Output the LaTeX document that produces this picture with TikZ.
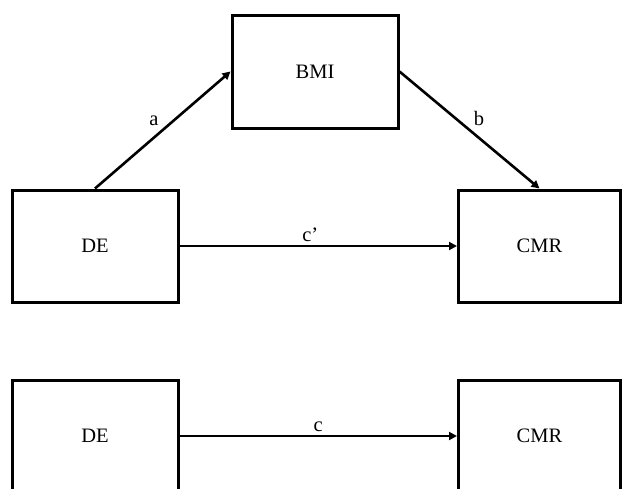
\documentclass[tikz,border=0pt]{standalone}
\usepackage{fontspec}
\setmainfont{Liberation Serif}
\usepackage{tikz}
\usetikzlibrary{positioning, calc, arrows.meta}
\tikzset{
    varbox/.style={
        draw, line width=3pt, minimum width=166pt, minimum height=112pt,
        inner sep=0pt, fill=white, anchor=center, font=\fontsize{20.5}{24}\selectfont
    },
    pathptr/.style={
        -{Triangle[length=8pt,width=8pt]}, line width=2.6pt, black
    },
    pathlabel/.style={
        font=\fontsize{20.5}{24}\selectfont, inner sep=3pt
    }
}
\begin{document}
\begin{tikzpicture}[x=1pt, y=-1pt]
        \useasboundingbox (0,0) rectangle (622,488);

        % Mô hình trung gian
        \node[varbox, minimum height=113pt] (bmi) at (315,71.5) {BMI};
        \node[varbox] (de1) at (95,246) {DE};
        \node[varbox, minimum width=162pt] (cmr1) at (539.5,246) {CMR};

        \draw[pathptr] (de1.north) -- node[pathlabel, midway, above left] {a} (bmi.west);
        \draw[pathptr] (bmi.east) -- node[pathlabel, midway, above right] {b} (cmr1.north);
        \draw[pathptr] (de1.east) -- node[pathlabel, midway, above, xshift=-8pt] {c’} (cmr1.west);

        % Hiệu ứng tổng
        \node[varbox] (de2) at (95,436) {DE};
        \node[varbox, minimum width=162pt] (cmr2) at (539.5,436) {CMR};

        \draw[pathptr] (de2.east) -- node[pathlabel, midway, above] {c} (cmr2.west);

    \end{tikzpicture}
\end{document}
